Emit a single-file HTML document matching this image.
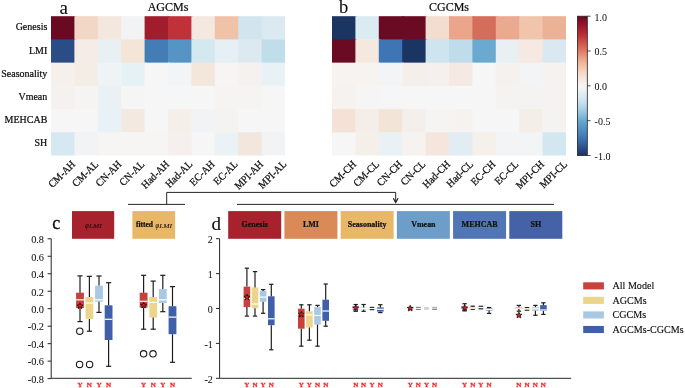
<!DOCTYPE html>
<html><head><meta charset="utf-8"><style>
html,body{margin:0;padding:0;background:#fff;}
body{width:685px;height:388px;overflow:hidden;font-family:"Liberation Serif",serif;}
svg{display:block;}
text{font-family:"Liberation Serif",serif;}
</style></head><body><div style="width:685px;height:388px;will-change:transform">
<svg width="685" height="388" viewBox="0 0 685 388">
<rect x="51.00" y="16.20" width="24.90" height="24.72" fill="#6a0a22"/>
<rect x="74.40" y="16.20" width="24.90" height="24.72" fill="#f2d6c6"/>
<rect x="97.80" y="16.20" width="24.90" height="24.72" fill="#f3e7de"/>
<rect x="121.20" y="16.20" width="24.90" height="24.72" fill="#f2f3f5"/>
<rect x="144.60" y="16.20" width="24.90" height="24.72" fill="#a11c2d"/>
<rect x="168.00" y="16.20" width="24.90" height="24.72" fill="#c0313a"/>
<rect x="191.40" y="16.20" width="24.90" height="24.72" fill="#f5e8e0"/>
<rect x="214.80" y="16.20" width="24.90" height="24.72" fill="#f0c3a9"/>
<rect x="238.20" y="16.20" width="24.90" height="24.72" fill="#d0e5ee"/>
<rect x="261.60" y="16.20" width="23.40" height="24.72" fill="#dbeaf1"/>
<rect x="51.00" y="39.42" width="24.90" height="24.72" fill="#2a4d86"/>
<rect x="74.40" y="39.42" width="24.90" height="24.72" fill="#f6ece7"/>
<rect x="97.80" y="39.42" width="24.90" height="24.72" fill="#e8f0f4"/>
<rect x="121.20" y="39.42" width="24.90" height="24.72" fill="#f4e5d9"/>
<rect x="144.60" y="39.42" width="24.90" height="24.72" fill="#427db5"/>
<rect x="168.00" y="39.42" width="24.90" height="24.72" fill="#5594c4"/>
<rect x="191.40" y="39.42" width="24.90" height="24.72" fill="#d3e8ef"/>
<rect x="214.80" y="39.42" width="24.90" height="24.72" fill="#e6f0f4"/>
<rect x="238.20" y="39.42" width="24.90" height="24.72" fill="#dde9f1"/>
<rect x="261.60" y="39.42" width="23.40" height="24.72" fill="#bfdeea"/>
<rect x="51.00" y="62.64" width="24.90" height="24.72" fill="#f5f0ec"/>
<rect x="74.40" y="62.64" width="24.90" height="24.72" fill="#f4ede6"/>
<rect x="97.80" y="62.64" width="24.90" height="24.72" fill="#eef3f5"/>
<rect x="121.20" y="62.64" width="24.90" height="24.72" fill="#e6f1f5"/>
<rect x="144.60" y="62.64" width="24.90" height="24.72" fill="#f6f6f7"/>
<rect x="168.00" y="62.64" width="24.90" height="24.72" fill="#f2f4f6"/>
<rect x="191.40" y="62.64" width="24.90" height="24.72" fill="#f3e6da"/>
<rect x="214.80" y="62.64" width="24.90" height="24.72" fill="#f6f5f4"/>
<rect x="238.20" y="62.64" width="24.90" height="24.72" fill="#f5f1ee"/>
<rect x="261.60" y="62.64" width="23.40" height="24.72" fill="#e8f1f5"/>
<rect x="51.00" y="85.86" width="24.90" height="24.72" fill="#f5f1ef"/>
<rect x="74.40" y="85.86" width="24.90" height="24.72" fill="#f6f4f3"/>
<rect x="97.80" y="85.86" width="24.90" height="24.72" fill="#eaf1f5"/>
<rect x="121.20" y="85.86" width="24.90" height="24.72" fill="#f6f5f5"/>
<rect x="144.60" y="85.86" width="24.90" height="24.72" fill="#f6f6f6"/>
<rect x="168.00" y="85.86" width="24.90" height="24.72" fill="#f6f6f6"/>
<rect x="191.40" y="85.86" width="24.90" height="24.72" fill="#f6f6f6"/>
<rect x="214.80" y="85.86" width="24.90" height="24.72" fill="#f5f4f2"/>
<rect x="238.20" y="85.86" width="24.90" height="24.72" fill="#f6f4f3"/>
<rect x="261.60" y="85.86" width="23.40" height="24.72" fill="#f6f6f6"/>
<rect x="51.00" y="109.08" width="24.90" height="24.72" fill="#f7f6f6"/>
<rect x="74.40" y="109.08" width="24.90" height="24.72" fill="#f7f6f6"/>
<rect x="97.80" y="109.08" width="24.90" height="24.72" fill="#e8f1f6"/>
<rect x="121.20" y="109.08" width="24.90" height="24.72" fill="#f3e9e0"/>
<rect x="144.60" y="109.08" width="24.90" height="24.72" fill="#f6f6f6"/>
<rect x="168.00" y="109.08" width="24.90" height="24.72" fill="#f4efe9"/>
<rect x="191.40" y="109.08" width="24.90" height="24.72" fill="#f2f3f5"/>
<rect x="214.80" y="109.08" width="24.90" height="24.72" fill="#f5f3f2"/>
<rect x="238.20" y="109.08" width="24.90" height="24.72" fill="#f6f6f6"/>
<rect x="261.60" y="109.08" width="23.40" height="24.72" fill="#f6f6f6"/>
<rect x="51.00" y="132.30" width="24.90" height="23.22" fill="#d6e8f1"/>
<rect x="74.40" y="132.30" width="24.90" height="23.22" fill="#f1f3f5"/>
<rect x="97.80" y="132.30" width="24.90" height="23.22" fill="#f7f5f4"/>
<rect x="121.20" y="132.30" width="24.90" height="23.22" fill="#f7f5f4"/>
<rect x="144.60" y="132.30" width="24.90" height="23.22" fill="#f7f5f4"/>
<rect x="168.00" y="132.30" width="24.90" height="23.22" fill="#f5f0ed"/>
<rect x="191.40" y="132.30" width="24.90" height="23.22" fill="#f6f6f6"/>
<rect x="214.80" y="132.30" width="24.90" height="23.22" fill="#ebf2f5"/>
<rect x="238.20" y="132.30" width="24.90" height="23.22" fill="#f3e6dc"/>
<rect x="261.60" y="132.30" width="23.40" height="23.22" fill="#f1f3f5"/>
<rect x="332.00" y="16.20" width="24.90" height="24.72" fill="#1b3563"/>
<rect x="355.40" y="16.20" width="24.90" height="24.72" fill="#dbebf2"/>
<rect x="378.80" y="16.20" width="24.90" height="24.72" fill="#6a0b23"/>
<rect x="402.20" y="16.20" width="24.90" height="24.72" fill="#6a0b23"/>
<rect x="425.60" y="16.20" width="24.90" height="24.72" fill="#f3ddd0"/>
<rect x="449.00" y="16.20" width="24.90" height="24.72" fill="#eba58a"/>
<rect x="472.40" y="16.20" width="24.90" height="24.72" fill="#d56d5b"/>
<rect x="495.80" y="16.20" width="24.90" height="24.72" fill="#eba98f"/>
<rect x="519.20" y="16.20" width="24.90" height="24.72" fill="#f1c4ac"/>
<rect x="542.60" y="16.20" width="23.40" height="24.72" fill="#ebb296"/>
<rect x="332.00" y="39.42" width="24.90" height="24.72" fill="#6a0b23"/>
<rect x="355.40" y="39.42" width="24.90" height="24.72" fill="#f5e8df"/>
<rect x="378.80" y="39.42" width="24.90" height="24.72" fill="#3e75b5"/>
<rect x="402.20" y="39.42" width="24.90" height="24.72" fill="#1b3563"/>
<rect x="425.60" y="39.42" width="24.90" height="24.72" fill="#cee4ee"/>
<rect x="449.00" y="39.42" width="24.90" height="24.72" fill="#c0dcea"/>
<rect x="472.40" y="39.42" width="24.90" height="24.72" fill="#6aaad0"/>
<rect x="495.80" y="39.42" width="24.90" height="24.72" fill="#e8f0f4"/>
<rect x="519.20" y="39.42" width="24.90" height="24.72" fill="#f5e9e2"/>
<rect x="542.60" y="39.42" width="23.40" height="24.72" fill="#dae9f1"/>
<rect x="332.00" y="62.64" width="24.90" height="24.72" fill="#f6f3f1"/>
<rect x="355.40" y="62.64" width="24.90" height="24.72" fill="#f6f3f1"/>
<rect x="378.80" y="62.64" width="24.90" height="24.72" fill="#f2f4f6"/>
<rect x="402.20" y="62.64" width="24.90" height="24.72" fill="#f5efeb"/>
<rect x="425.60" y="62.64" width="24.90" height="24.72" fill="#f5f0ee"/>
<rect x="449.00" y="62.64" width="24.90" height="24.72" fill="#f4e9e3"/>
<rect x="472.40" y="62.64" width="24.90" height="24.72" fill="#f6f6f6"/>
<rect x="495.80" y="62.64" width="24.90" height="24.72" fill="#f5f1ee"/>
<rect x="519.20" y="62.64" width="24.90" height="24.72" fill="#f2f4f6"/>
<rect x="542.60" y="62.64" width="23.40" height="24.72" fill="#f5f2f0"/>
<rect x="332.00" y="85.86" width="24.90" height="24.72" fill="#f5f2ef"/>
<rect x="355.40" y="85.86" width="24.90" height="24.72" fill="#f6f5f5"/>
<rect x="378.80" y="85.86" width="24.90" height="24.72" fill="#f6f6f6"/>
<rect x="402.20" y="85.86" width="24.90" height="24.72" fill="#f6f6f6"/>
<rect x="425.60" y="85.86" width="24.90" height="24.72" fill="#f6f6f6"/>
<rect x="449.00" y="85.86" width="24.90" height="24.72" fill="#f6f6f6"/>
<rect x="472.40" y="85.86" width="24.90" height="24.72" fill="#f6f6f6"/>
<rect x="495.80" y="85.86" width="24.90" height="24.72" fill="#f5f3f2"/>
<rect x="519.20" y="85.86" width="24.90" height="24.72" fill="#f5f3f2"/>
<rect x="542.60" y="85.86" width="23.40" height="24.72" fill="#f5f3f2"/>
<rect x="332.00" y="109.08" width="24.90" height="24.72" fill="#f3e2d5"/>
<rect x="355.40" y="109.08" width="24.90" height="24.72" fill="#f5eee8"/>
<rect x="378.80" y="109.08" width="24.90" height="24.72" fill="#f3e4d8"/>
<rect x="402.20" y="109.08" width="24.90" height="24.72" fill="#f5efeb"/>
<rect x="425.60" y="109.08" width="24.90" height="24.72" fill="#f6f4f3"/>
<rect x="449.00" y="109.08" width="24.90" height="24.72" fill="#f5f2f0"/>
<rect x="472.40" y="109.08" width="24.90" height="24.72" fill="#f6f6f6"/>
<rect x="495.80" y="109.08" width="24.90" height="24.72" fill="#f6f6f6"/>
<rect x="519.20" y="109.08" width="24.90" height="24.72" fill="#f4eee8"/>
<rect x="542.60" y="109.08" width="23.40" height="24.72" fill="#f5f3f1"/>
<rect x="332.00" y="132.30" width="24.90" height="23.22" fill="#f6f6f6"/>
<rect x="355.40" y="132.30" width="24.90" height="23.22" fill="#f5efea"/>
<rect x="378.80" y="132.30" width="24.90" height="23.22" fill="#e9f1f5"/>
<rect x="402.20" y="132.30" width="24.90" height="23.22" fill="#f6f2f0"/>
<rect x="425.60" y="132.30" width="24.90" height="23.22" fill="#f4e6dc"/>
<rect x="449.00" y="132.30" width="24.90" height="23.22" fill="#e1edf3"/>
<rect x="472.40" y="132.30" width="24.90" height="23.22" fill="#f5f1ea"/>
<rect x="495.80" y="132.30" width="24.90" height="23.22" fill="#f2f4f6"/>
<rect x="519.20" y="132.30" width="24.90" height="23.22" fill="#f2f4f6"/>
<rect x="542.60" y="132.30" width="23.40" height="23.22" fill="#d2e7f0"/>
<text transform="translate(47.30,30.31) scale(1,1.06)" style="font-size:10px" fill="#0d0d0d" stroke="#0d0d0d" stroke-width="0.22" text-anchor="end">Genesis</text>
<text transform="translate(47.30,53.53) scale(1,1.06)" style="font-size:10px" fill="#0d0d0d" stroke="#0d0d0d" stroke-width="0.22" text-anchor="end">LMI</text>
<text transform="translate(47.30,76.75) scale(1,1.06)" style="font-size:10px" fill="#0d0d0d" stroke="#0d0d0d" stroke-width="0.22" text-anchor="end">Seasonality</text>
<text transform="translate(47.30,99.97) scale(1,1.06)" style="font-size:10px" fill="#0d0d0d" stroke="#0d0d0d" stroke-width="0.22" text-anchor="end">Vmean</text>
<text transform="translate(47.30,123.19) scale(1,1.06)" style="font-size:10px" fill="#0d0d0d" stroke="#0d0d0d" stroke-width="0.22" text-anchor="end">MEHCAB</text>
<text transform="translate(47.30,146.41) scale(1,1.06)" style="font-size:10px" fill="#0d0d0d" stroke="#0d0d0d" stroke-width="0.22" text-anchor="end">SH</text>
<text x="168.00" y="10.50" style="font-size:12px" fill="#0d0d0d" stroke="#0d0d0d" stroke-width="0.22" text-anchor="middle">AGCMs</text>
<text x="449.00" y="10.50" style="font-size:12px" fill="#0d0d0d" stroke="#0d0d0d" stroke-width="0.22" text-anchor="middle">CGCMs</text>
<text x="59.40" y="14.00" style="font-size:19px" fill="#0d0d0d" stroke="#0d0d0d" stroke-width="0.1">a</text>
<text x="338.90" y="13.30" style="font-size:18.5px" fill="#0d0d0d" stroke="#0d0d0d" stroke-width="0.1">b</text>
<text x="52.20" y="229.10" style="font-size:18px" fill="#0d0d0d" stroke="#0d0d0d" stroke-width="0.3">c</text>
<text x="211.50" y="229.60" style="font-size:19px" fill="#0d0d0d" stroke="#0d0d0d" stroke-width="0.1">d</text>
<g transform="translate(61.80,174.20) rotate(-45)"><text transform="translate(0.00,3.37) scale(1,1.06)" style="font-size:10px" fill="#0d0d0d" stroke="#0d0d0d" stroke-width="0.22" text-anchor="middle">CM-AH</text></g>
<g transform="translate(85.20,173.81) rotate(-45)"><text transform="translate(0.00,3.37) scale(1,1.06)" style="font-size:10px" fill="#0d0d0d" stroke="#0d0d0d" stroke-width="0.22" text-anchor="middle">CM-AL</text></g>
<g transform="translate(108.60,173.61) rotate(-45)"><text transform="translate(0.00,3.37) scale(1,1.06)" style="font-size:10px" fill="#0d0d0d" stroke="#0d0d0d" stroke-width="0.22" text-anchor="middle">CN-AH</text></g>
<g transform="translate(132.00,173.22) rotate(-45)"><text transform="translate(0.00,3.37) scale(1,1.06)" style="font-size:10px" fill="#0d0d0d" stroke="#0d0d0d" stroke-width="0.22" text-anchor="middle">CN-AL</text></g>
<g transform="translate(155.40,174.59) rotate(-45)"><text transform="translate(0.00,3.37) scale(1,1.06)" style="font-size:10px" fill="#0d0d0d" stroke="#0d0d0d" stroke-width="0.22" text-anchor="middle">Had-AH</text></g>
<g transform="translate(178.80,174.19) rotate(-45)"><text transform="translate(0.00,3.37) scale(1,1.06)" style="font-size:10px" fill="#0d0d0d" stroke="#0d0d0d" stroke-width="0.22" text-anchor="middle">Had-AL</text></g>
<g transform="translate(202.20,173.22) rotate(-45)"><text transform="translate(0.00,3.37) scale(1,1.06)" style="font-size:10px" fill="#0d0d0d" stroke="#0d0d0d" stroke-width="0.22" text-anchor="middle">EC-AH</text></g>
<g transform="translate(225.60,172.82) rotate(-45)"><text transform="translate(0.00,3.37) scale(1,1.06)" style="font-size:10px" fill="#0d0d0d" stroke="#0d0d0d" stroke-width="0.22" text-anchor="middle">EC-AL</text></g>
<g transform="translate(249.00,174.99) rotate(-45)"><text transform="translate(0.00,3.37) scale(1,1.06)" style="font-size:10px" fill="#0d0d0d" stroke="#0d0d0d" stroke-width="0.22" text-anchor="middle">MPI-AH</text></g>
<g transform="translate(272.40,174.59) rotate(-45)"><text transform="translate(0.00,3.37) scale(1,1.06)" style="font-size:10px" fill="#0d0d0d" stroke="#0d0d0d" stroke-width="0.22" text-anchor="middle">MPI-AL</text></g>
<g transform="translate(342.80,174.00) rotate(-45)"><text transform="translate(0.00,3.37) scale(1,1.06)" style="font-size:10px" fill="#0d0d0d" stroke="#0d0d0d" stroke-width="0.22" text-anchor="middle">CM-CH</text></g>
<g transform="translate(366.20,173.61) rotate(-45)"><text transform="translate(0.00,3.37) scale(1,1.06)" style="font-size:10px" fill="#0d0d0d" stroke="#0d0d0d" stroke-width="0.22" text-anchor="middle">CM-CL</text></g>
<g transform="translate(389.60,173.41) rotate(-45)"><text transform="translate(0.00,3.37) scale(1,1.06)" style="font-size:10px" fill="#0d0d0d" stroke="#0d0d0d" stroke-width="0.22" text-anchor="middle">CN-CH</text></g>
<g transform="translate(413.00,173.02) rotate(-45)"><text transform="translate(0.00,3.37) scale(1,1.06)" style="font-size:10px" fill="#0d0d0d" stroke="#0d0d0d" stroke-width="0.22" text-anchor="middle">CN-CL</text></g>
<g transform="translate(436.40,174.39) rotate(-45)"><text transform="translate(0.00,3.37) scale(1,1.06)" style="font-size:10px" fill="#0d0d0d" stroke="#0d0d0d" stroke-width="0.22" text-anchor="middle">Had-CH</text></g>
<g transform="translate(459.80,174.00) rotate(-45)"><text transform="translate(0.00,3.37) scale(1,1.06)" style="font-size:10px" fill="#0d0d0d" stroke="#0d0d0d" stroke-width="0.22" text-anchor="middle">Had-CL</text></g>
<g transform="translate(483.20,173.02) rotate(-45)"><text transform="translate(0.00,3.37) scale(1,1.06)" style="font-size:10px" fill="#0d0d0d" stroke="#0d0d0d" stroke-width="0.22" text-anchor="middle">EC-CH</text></g>
<g transform="translate(506.60,172.63) rotate(-45)"><text transform="translate(0.00,3.37) scale(1,1.06)" style="font-size:10px" fill="#0d0d0d" stroke="#0d0d0d" stroke-width="0.22" text-anchor="middle">EC-CL</text></g>
<g transform="translate(530.00,174.79) rotate(-45)"><text transform="translate(0.00,3.37) scale(1,1.06)" style="font-size:10px" fill="#0d0d0d" stroke="#0d0d0d" stroke-width="0.22" text-anchor="middle">MPI-CH</text></g>
<g transform="translate(553.40,174.40) rotate(-45)"><text transform="translate(0.00,3.37) scale(1,1.06)" style="font-size:10px" fill="#0d0d0d" stroke="#0d0d0d" stroke-width="0.22" text-anchor="middle">MPI-CL</text></g>
<defs><linearGradient id="cb" x1="0" y1="0" x2="0" y2="1">
<stop offset="0.000" stop-color="#680a22"/>
<stop offset="0.050" stop-color="#8e1029"/>
<stop offset="0.100" stop-color="#ad1f2f"/>
<stop offset="0.150" stop-color="#c2383c"/>
<stop offset="0.200" stop-color="#d25a4e"/>
<stop offset="0.250" stop-color="#df7a63"/>
<stop offset="0.300" stop-color="#eda084"/>
<stop offset="0.350" stop-color="#f3bda2"/>
<stop offset="0.400" stop-color="#f6d6c4"/>
<stop offset="0.450" stop-color="#f5e6dc"/>
<stop offset="0.500" stop-color="#f6f6f6"/>
<stop offset="0.550" stop-color="#e4eef3"/>
<stop offset="0.600" stop-color="#d0e5ef"/>
<stop offset="0.650" stop-color="#b5d6e7"/>
<stop offset="0.700" stop-color="#8fc2dd"/>
<stop offset="0.750" stop-color="#6aa8d0"/>
<stop offset="0.800" stop-color="#5594c4"/>
<stop offset="0.850" stop-color="#4580bb"/>
<stop offset="0.900" stop-color="#3868a8"/>
<stop offset="0.950" stop-color="#2a4d88"/>
<stop offset="1.000" stop-color="#1b3361"/>
</linearGradient></defs>
<rect x="577.4" y="16.2" width="9.9" height="139.32" fill="url(#cb)" stroke="#222" stroke-width="0.8"/>
<line x1="587.3" y1="16.20" x2="590.60" y2="16.20" stroke="#222" stroke-width="0.8"/>
<text transform="translate(594.60,20.50) scale(1,1.06)" style="font-size:10px" fill="#0d0d0d" stroke="#0d0d0d" stroke-width="0.02">1.0</text>
<line x1="587.3" y1="51.03" x2="590.60" y2="51.03" stroke="#222" stroke-width="0.8"/>
<text transform="translate(594.60,55.33) scale(1,1.06)" style="font-size:10px" fill="#0d0d0d" stroke="#0d0d0d" stroke-width="0.02">0.5</text>
<line x1="587.3" y1="85.86" x2="590.60" y2="85.86" stroke="#222" stroke-width="0.8"/>
<text transform="translate(594.60,90.16) scale(1,1.06)" style="font-size:10px" fill="#0d0d0d" stroke="#0d0d0d" stroke-width="0.02">0.0</text>
<line x1="587.3" y1="120.69" x2="590.60" y2="120.69" stroke="#222" stroke-width="0.8"/>
<text transform="translate(594.60,124.99) scale(1,1.06)" style="font-size:10px" fill="#0d0d0d" stroke="#0d0d0d" stroke-width="0.02">-0.5</text>
<line x1="587.3" y1="155.52" x2="590.60" y2="155.52" stroke="#222" stroke-width="0.8"/>
<text transform="translate(594.60,159.82) scale(1,1.06)" style="font-size:10px" fill="#0d0d0d" stroke="#0d0d0d" stroke-width="0.02">-1.0</text>
<path d="M128,204.4 H185" stroke="#262626" stroke-width="1" fill="none"/>
<path d="M166.7,204.4 V192.4 H395.7 V202" stroke="#262626" stroke-width="1" fill="none"/>
<path d="M393.3,198.2 L395.7,202.5 L398.1,198.2" stroke="#262626" stroke-width="1.3" fill="none" stroke-linejoin="miter"/>
<path d="M237,204.4 H554" stroke="#262626" stroke-width="1" fill="none"/>
<rect x="72" y="211.1" width="42.2" height="27.7" fill="#a8222e"/>
<rect x="132.4" y="211.1" width="42.7" height="27.7" fill="#e8b767"/>
<g transform="translate(85.30,227.90) scale(0.75,1)"><text x="0.00" y="0.00" style="font-size:8.2px;font-style:italic" fill="#1a0606" stroke="#1a0606" stroke-width="0.12">φ</text></g><g transform="translate(88.90,227.50) scale(1.25,0.85)"><text x="0.00" y="0.00" style="font-size:6px;font-style:italic" fill="#1a0606" stroke="#1a0606" stroke-width="0.05">LMI</text></g>
<text transform="translate(135.90,226.50) scale(1,1.06)" style="font-size:7.5px;font-weight:bold" fill="#111" stroke="#111" stroke-width="0.22">fitted</text>
<g transform="translate(155.60,227.90) scale(0.75,1)"><text x="0.00" y="0.00" style="font-size:8.2px;font-style:italic" fill="#1a0606" stroke="#1a0606" stroke-width="0.12">φ</text></g><g transform="translate(159.20,227.50) scale(1.25,0.85)"><text x="0.00" y="0.00" style="font-size:6px;font-style:italic" fill="#1a0606" stroke="#1a0606" stroke-width="0.05">LMI</text></g>
<rect x="228.20" y="211.1" width="53" height="27.7" fill="#a8222e"/>
<text transform="translate(254.70,227.10) scale(1,1.06)" style="font-size:8px;font-weight:bold" fill="#111" stroke="#111" stroke-width="0.22" text-anchor="middle">Genesis</text>
<rect x="284.42" y="211.1" width="53" height="27.7" fill="#d98a56"/>
<text transform="translate(310.92,227.10) scale(1,1.06)" style="font-size:8px;font-weight:bold" fill="#111" stroke="#111" stroke-width="0.22" text-anchor="middle">LMI</text>
<rect x="340.64" y="211.1" width="53" height="27.7" fill="#e8b767"/>
<text transform="translate(367.14,227.10) scale(1,1.06)" style="font-size:8px;font-weight:bold" fill="#111" stroke="#111" stroke-width="0.22" text-anchor="middle">Seasonality</text>
<rect x="396.86" y="211.1" width="53" height="27.7" fill="#6d9ec9"/>
<text transform="translate(423.36,227.10) scale(1,1.06)" style="font-size:8px;font-weight:bold" fill="#111" stroke="#111" stroke-width="0.22" text-anchor="middle">Vmean</text>
<rect x="453.08" y="211.1" width="53" height="27.7" fill="#5176b5"/>
<text transform="translate(479.58,227.10) scale(1,1.06)" style="font-size:8px;font-weight:bold" fill="#111" stroke="#111" stroke-width="0.22" text-anchor="middle">MEHCAB</text>
<rect x="509.30" y="211.1" width="53" height="27.7" fill="#4462a5"/>
<text transform="translate(535.80,227.10) scale(1,1.06)" style="font-size:8px;font-weight:bold" fill="#111" stroke="#111" stroke-width="0.22" text-anchor="middle">SH</text>
<path d="M51.2,238.7 V378.3 H191.8" stroke="#262626" stroke-width="1" fill="none"/>
<line x1="47.6" y1="238.78" x2="51.2" y2="238.78" stroke="#262626" stroke-width="1"/>
<text transform="translate(44.00,243.08) scale(1,1.06)" style="font-size:10.3px" fill="#0d0d0d" stroke="#0d0d0d" stroke-width="0.05" text-anchor="end">0.8</text>
<line x1="47.6" y1="256.26" x2="51.2" y2="256.26" stroke="#262626" stroke-width="1"/>
<text transform="translate(44.00,260.56) scale(1,1.06)" style="font-size:10.3px" fill="#0d0d0d" stroke="#0d0d0d" stroke-width="0.05" text-anchor="end">0.6</text>
<line x1="47.6" y1="273.74" x2="51.2" y2="273.74" stroke="#262626" stroke-width="1"/>
<text transform="translate(44.00,278.04) scale(1,1.06)" style="font-size:10.3px" fill="#0d0d0d" stroke="#0d0d0d" stroke-width="0.05" text-anchor="end">0.4</text>
<line x1="47.6" y1="291.22" x2="51.2" y2="291.22" stroke="#262626" stroke-width="1"/>
<text transform="translate(44.00,295.52) scale(1,1.06)" style="font-size:10.3px" fill="#0d0d0d" stroke="#0d0d0d" stroke-width="0.05" text-anchor="end">0.2</text>
<line x1="47.6" y1="308.70" x2="51.2" y2="308.70" stroke="#262626" stroke-width="1"/>
<text transform="translate(44.00,313.00) scale(1,1.06)" style="font-size:10.3px" fill="#0d0d0d" stroke="#0d0d0d" stroke-width="0.05" text-anchor="end">0.0</text>
<line x1="47.6" y1="326.18" x2="51.2" y2="326.18" stroke="#262626" stroke-width="1"/>
<text transform="translate(44.00,330.48) scale(1,1.06)" style="font-size:10.3px" fill="#0d0d0d" stroke="#0d0d0d" stroke-width="0.05" text-anchor="end">-0.2</text>
<line x1="47.6" y1="343.66" x2="51.2" y2="343.66" stroke="#262626" stroke-width="1"/>
<text transform="translate(44.00,347.96) scale(1,1.06)" style="font-size:10.3px" fill="#0d0d0d" stroke="#0d0d0d" stroke-width="0.05" text-anchor="end">-0.4</text>
<line x1="47.6" y1="361.14" x2="51.2" y2="361.14" stroke="#262626" stroke-width="1"/>
<text transform="translate(44.00,365.44) scale(1,1.06)" style="font-size:10.3px" fill="#0d0d0d" stroke="#0d0d0d" stroke-width="0.05" text-anchor="end">-0.6</text>
<line x1="47.6" y1="378.62" x2="51.2" y2="378.62" stroke="#262626" stroke-width="1"/>
<text transform="translate(44.00,382.92) scale(1,1.06)" style="font-size:10.3px" fill="#0d0d0d" stroke="#0d0d0d" stroke-width="0.05" text-anchor="end">-0.8</text>
<path d="M219.6,238.7 V378.3 H571.2" stroke="#262626" stroke-width="1" fill="none"/>
<line x1="216" y1="238.70" x2="219.6" y2="238.70" stroke="#262626" stroke-width="1"/>
<text transform="translate(212.80,243.00) scale(1,1.06)" style="font-size:10px" fill="#0d0d0d" stroke="#0d0d0d" stroke-width="0.05" text-anchor="end">2</text>
<line x1="216" y1="273.60" x2="219.6" y2="273.60" stroke="#262626" stroke-width="1"/>
<text transform="translate(212.80,277.90) scale(1,1.06)" style="font-size:10px" fill="#0d0d0d" stroke="#0d0d0d" stroke-width="0.05" text-anchor="end">1</text>
<line x1="216" y1="308.50" x2="219.6" y2="308.50" stroke="#262626" stroke-width="1"/>
<text transform="translate(212.80,312.80) scale(1,1.06)" style="font-size:10px" fill="#0d0d0d" stroke="#0d0d0d" stroke-width="0.05" text-anchor="end">0</text>
<line x1="216" y1="343.40" x2="219.6" y2="343.40" stroke="#262626" stroke-width="1"/>
<text transform="translate(212.80,347.70) scale(1,1.06)" style="font-size:10px" fill="#0d0d0d" stroke="#0d0d0d" stroke-width="0.05" text-anchor="end">-1</text>
<line x1="216" y1="378.30" x2="219.6" y2="378.30" stroke="#262626" stroke-width="1"/>
<text transform="translate(212.80,382.60) scale(1,1.06)" style="font-size:10px" fill="#0d0d0d" stroke="#0d0d0d" stroke-width="0.05" text-anchor="end">-2</text>
<rect x="76.10" y="292.70" width="7.80" height="15.30" fill="#c8413b"/><line x1="80.00" y1="275.90" x2="80.00" y2="292.70" stroke="#1e1e1e" stroke-width="1.2"/><line x1="80.00" y1="308.00" x2="80.00" y2="321.60" stroke="#1e1e1e" stroke-width="1.2"/><line x1="77.43" y1="275.90" x2="82.57" y2="275.90" stroke="#1e1e1e" stroke-width="1.2"/><line x1="77.43" y1="321.60" x2="82.57" y2="321.60" stroke="#1e1e1e" stroke-width="1.2"/><line x1="76.10" y1="299.80" x2="83.90" y2="299.80" stroke="#ffffff" stroke-width="1.2"/>
<rect x="85.50" y="297.00" width="7.80" height="21.90" fill="#ecd48b"/><line x1="89.40" y1="276.30" x2="89.40" y2="297.00" stroke="#1e1e1e" stroke-width="1.2"/><line x1="89.40" y1="318.90" x2="89.40" y2="331.20" stroke="#1e1e1e" stroke-width="1.2"/><line x1="86.83" y1="276.30" x2="91.97" y2="276.30" stroke="#1e1e1e" stroke-width="1.2"/><line x1="86.83" y1="331.20" x2="91.97" y2="331.20" stroke="#1e1e1e" stroke-width="1.2"/><line x1="85.50" y1="303.00" x2="93.30" y2="303.00" stroke="#ffffff" stroke-width="1.2"/>
<rect x="95.10" y="285.60" width="7.80" height="16.10" fill="#a9c8e2"/><line x1="99.00" y1="276.00" x2="99.00" y2="285.60" stroke="#1e1e1e" stroke-width="1.2"/><line x1="99.00" y1="301.70" x2="99.00" y2="312.40" stroke="#1e1e1e" stroke-width="1.2"/><line x1="96.43" y1="276.00" x2="101.57" y2="276.00" stroke="#1e1e1e" stroke-width="1.2"/><line x1="96.43" y1="312.40" x2="101.57" y2="312.40" stroke="#1e1e1e" stroke-width="1.2"/><line x1="95.10" y1="299.80" x2="102.90" y2="299.80" stroke="#ffffff" stroke-width="1.2"/>
<rect x="104.70" y="305.30" width="7.80" height="34.70" fill="#3f5fa8"/><line x1="108.60" y1="282.70" x2="108.60" y2="305.30" stroke="#1e1e1e" stroke-width="1.2"/><line x1="108.60" y1="340.00" x2="108.60" y2="366.30" stroke="#1e1e1e" stroke-width="1.2"/><line x1="106.03" y1="282.70" x2="111.17" y2="282.70" stroke="#1e1e1e" stroke-width="1.2"/><line x1="106.03" y1="366.30" x2="111.17" y2="366.30" stroke="#1e1e1e" stroke-width="1.2"/><line x1="104.70" y1="319.30" x2="112.50" y2="319.30" stroke="#ffffff" stroke-width="1.2"/>
<rect x="139.70" y="292.70" width="7.80" height="14.90" fill="#c8413b"/><line x1="143.60" y1="275.30" x2="143.60" y2="292.70" stroke="#1e1e1e" stroke-width="1.2"/><line x1="143.60" y1="307.60" x2="143.60" y2="329.20" stroke="#1e1e1e" stroke-width="1.2"/><line x1="141.03" y1="275.30" x2="146.17" y2="275.30" stroke="#1e1e1e" stroke-width="1.2"/><line x1="141.03" y1="329.20" x2="146.17" y2="329.20" stroke="#1e1e1e" stroke-width="1.2"/><line x1="139.70" y1="301.30" x2="147.50" y2="301.30" stroke="#ffffff" stroke-width="1.2"/>
<rect x="149.30" y="297.00" width="7.80" height="20.50" fill="#ecd48b"/><line x1="153.20" y1="281.10" x2="153.20" y2="297.00" stroke="#1e1e1e" stroke-width="1.2"/><line x1="153.20" y1="317.50" x2="153.20" y2="329.20" stroke="#1e1e1e" stroke-width="1.2"/><line x1="150.63" y1="281.10" x2="155.77" y2="281.10" stroke="#1e1e1e" stroke-width="1.2"/><line x1="150.63" y1="329.20" x2="155.77" y2="329.20" stroke="#1e1e1e" stroke-width="1.2"/><line x1="149.30" y1="302.40" x2="157.10" y2="302.40" stroke="#ffffff" stroke-width="1.2"/>
<rect x="158.90" y="289.10" width="7.80" height="13.90" fill="#a9c8e2"/><line x1="162.80" y1="275.30" x2="162.80" y2="289.10" stroke="#1e1e1e" stroke-width="1.2"/><line x1="162.80" y1="303.00" x2="162.80" y2="311.70" stroke="#1e1e1e" stroke-width="1.2"/><line x1="160.23" y1="275.30" x2="165.37" y2="275.30" stroke="#1e1e1e" stroke-width="1.2"/><line x1="160.23" y1="311.70" x2="165.37" y2="311.70" stroke="#1e1e1e" stroke-width="1.2"/><line x1="158.90" y1="299.80" x2="166.70" y2="299.80" stroke="#ffffff" stroke-width="1.2"/>
<rect x="168.60" y="306.20" width="7.80" height="28.00" fill="#3f5fa8"/><line x1="172.50" y1="286.60" x2="172.50" y2="306.20" stroke="#1e1e1e" stroke-width="1.2"/><line x1="172.50" y1="334.20" x2="172.50" y2="362.30" stroke="#1e1e1e" stroke-width="1.2"/><line x1="169.93" y1="286.60" x2="175.07" y2="286.60" stroke="#1e1e1e" stroke-width="1.2"/><line x1="169.93" y1="362.30" x2="175.07" y2="362.30" stroke="#1e1e1e" stroke-width="1.2"/><line x1="168.60" y1="317.10" x2="176.40" y2="317.10" stroke="#ffffff" stroke-width="1.2"/>
<polygon points="80.00,302.80 80.85,304.84 83.04,305.01 81.37,306.44 81.88,308.59 80.00,307.44 78.12,308.59 78.63,306.44 76.96,305.01 79.15,304.84" fill="#e8141c" stroke="#111" stroke-width="0.8"/>
<polygon points="143.60,302.10 144.45,304.14 146.64,304.31 144.97,305.74 145.48,307.89 143.60,306.74 141.72,307.89 142.23,305.74 140.56,304.31 142.75,304.14" fill="#e8141c" stroke="#111" stroke-width="0.8"/>
<circle cx="79.80" cy="331.20" r="3.2" fill="none" stroke="#1a1a1a" stroke-width="1.1"/>
<circle cx="79.60" cy="364.40" r="3.2" fill="none" stroke="#1a1a1a" stroke-width="1.1"/>
<circle cx="89.60" cy="364.40" r="3.2" fill="none" stroke="#1a1a1a" stroke-width="1.1"/>
<circle cx="143.60" cy="353.80" r="3.2" fill="none" stroke="#1a1a1a" stroke-width="1.1"/>
<circle cx="153.00" cy="353.80" r="3.2" fill="none" stroke="#1a1a1a" stroke-width="1.1"/>
<rect x="243.60" y="286.60" width="6.60" height="20.50" fill="#c8413b"/><line x1="246.90" y1="268.20" x2="246.90" y2="286.60" stroke="#1e1e1e" stroke-width="1.2"/><line x1="246.90" y1="307.10" x2="246.90" y2="316.10" stroke="#1e1e1e" stroke-width="1.2"/><line x1="244.72" y1="268.20" x2="249.08" y2="268.20" stroke="#1e1e1e" stroke-width="1.2"/><line x1="244.72" y1="316.10" x2="249.08" y2="316.10" stroke="#1e1e1e" stroke-width="1.2"/><line x1="243.60" y1="298.60" x2="250.20" y2="298.60" stroke="#ffffff" stroke-width="1.2"/>
<rect x="251.70" y="287.50" width="6.60" height="20.70" fill="#ecd48b"/><line x1="255.00" y1="271.60" x2="255.00" y2="287.50" stroke="#1e1e1e" stroke-width="1.2"/><line x1="255.00" y1="308.20" x2="255.00" y2="316.10" stroke="#1e1e1e" stroke-width="1.2"/><line x1="252.82" y1="271.60" x2="257.18" y2="271.60" stroke="#1e1e1e" stroke-width="1.2"/><line x1="252.82" y1="316.10" x2="257.18" y2="316.10" stroke="#1e1e1e" stroke-width="1.2"/><line x1="251.70" y1="304.00" x2="258.30" y2="304.00" stroke="#ffffff" stroke-width="1.2"/>
<rect x="259.80" y="290.90" width="6.60" height="10.80" fill="#a9c8e2"/><line x1="263.10" y1="289.60" x2="263.10" y2="290.90" stroke="#1e1e1e" stroke-width="1.2"/><line x1="263.10" y1="301.70" x2="263.10" y2="313.30" stroke="#1e1e1e" stroke-width="1.2"/><line x1="260.92" y1="289.60" x2="265.28" y2="289.60" stroke="#1e1e1e" stroke-width="1.2"/><line x1="260.92" y1="313.30" x2="265.28" y2="313.30" stroke="#1e1e1e" stroke-width="1.2"/><line x1="259.80" y1="297.10" x2="266.40" y2="297.10" stroke="#ffffff" stroke-width="1.2"/>
<rect x="268.00" y="296.30" width="6.60" height="28.90" fill="#3f5fa8"/><line x1="271.30" y1="284.30" x2="271.30" y2="296.30" stroke="#1e1e1e" stroke-width="1.2"/><line x1="271.30" y1="325.20" x2="271.30" y2="349.80" stroke="#1e1e1e" stroke-width="1.2"/><line x1="269.12" y1="284.30" x2="273.48" y2="284.30" stroke="#1e1e1e" stroke-width="1.2"/><line x1="269.12" y1="349.80" x2="273.48" y2="349.80" stroke="#1e1e1e" stroke-width="1.2"/><line x1="268.00" y1="318.80" x2="274.60" y2="318.80" stroke="#ffffff" stroke-width="1.2"/>
<rect x="298.00" y="308.70" width="6.60" height="20.00" fill="#c8413b"/><line x1="301.30" y1="304.80" x2="301.30" y2="308.70" stroke="#1e1e1e" stroke-width="1.2"/><line x1="301.30" y1="328.70" x2="301.30" y2="346.20" stroke="#1e1e1e" stroke-width="1.2"/><line x1="299.12" y1="304.80" x2="303.48" y2="304.80" stroke="#1e1e1e" stroke-width="1.2"/><line x1="299.12" y1="346.20" x2="303.48" y2="346.20" stroke="#1e1e1e" stroke-width="1.2"/><line x1="298.00" y1="313.80" x2="304.60" y2="313.80" stroke="#ffffff" stroke-width="1.2"/>
<rect x="306.10" y="311.30" width="6.60" height="16.20" fill="#ecd48b"/><line x1="309.40" y1="304.80" x2="309.40" y2="311.30" stroke="#1e1e1e" stroke-width="1.2"/><line x1="309.40" y1="327.50" x2="309.40" y2="340.20" stroke="#1e1e1e" stroke-width="1.2"/><line x1="307.22" y1="304.80" x2="311.58" y2="304.80" stroke="#1e1e1e" stroke-width="1.2"/><line x1="307.22" y1="340.20" x2="311.58" y2="340.20" stroke="#1e1e1e" stroke-width="1.2"/><line x1="306.10" y1="314.90" x2="312.70" y2="314.90" stroke="#ffffff" stroke-width="1.2"/>
<rect x="314.20" y="307.10" width="6.60" height="17.50" fill="#a9c8e2"/><line x1="317.50" y1="305.40" x2="317.50" y2="307.10" stroke="#1e1e1e" stroke-width="1.2"/><line x1="317.50" y1="324.60" x2="317.50" y2="346.20" stroke="#1e1e1e" stroke-width="1.2"/><line x1="315.32" y1="305.40" x2="319.68" y2="305.40" stroke="#1e1e1e" stroke-width="1.2"/><line x1="315.32" y1="346.20" x2="319.68" y2="346.20" stroke="#1e1e1e" stroke-width="1.2"/><line x1="314.20" y1="315.50" x2="320.80" y2="315.50" stroke="#ffffff" stroke-width="1.2"/>
<rect x="322.40" y="299.70" width="6.60" height="21.10" fill="#3f5fa8"/><line x1="325.70" y1="284.00" x2="325.70" y2="299.70" stroke="#1e1e1e" stroke-width="1.2"/><line x1="325.70" y1="320.80" x2="325.70" y2="326.20" stroke="#1e1e1e" stroke-width="1.2"/><line x1="323.52" y1="284.00" x2="327.88" y2="284.00" stroke="#1e1e1e" stroke-width="1.2"/><line x1="323.52" y1="326.20" x2="327.88" y2="326.20" stroke="#1e1e1e" stroke-width="1.2"/><line x1="322.40" y1="311.00" x2="329.00" y2="311.00" stroke="#ffffff" stroke-width="1.2"/>
<rect x="352.40" y="307.10" width="6.60" height="2.20" fill="#c8413b"/><line x1="355.70" y1="304.50" x2="355.70" y2="307.10" stroke="#1e1e1e" stroke-width="1.2"/><line x1="355.70" y1="309.30" x2="355.70" y2="311.30" stroke="#1e1e1e" stroke-width="1.2"/><line x1="353.52" y1="304.50" x2="357.88" y2="304.50" stroke="#1e1e1e" stroke-width="1.2"/><line x1="353.52" y1="311.30" x2="357.88" y2="311.30" stroke="#1e1e1e" stroke-width="1.2"/><line x1="352.40" y1="308.20" x2="359.00" y2="308.20" stroke="#ffffff" stroke-width="1.2"/>
<rect x="360.30" y="307.40" width="6.60" height="2.20" fill="#ecd48b"/><line x1="363.60" y1="304.50" x2="363.60" y2="307.40" stroke="#1e1e1e" stroke-width="1.2"/><line x1="363.60" y1="309.60" x2="363.60" y2="311.30" stroke="#1e1e1e" stroke-width="1.2"/><line x1="361.42" y1="304.50" x2="365.78" y2="304.50" stroke="#1e1e1e" stroke-width="1.2"/><line x1="361.42" y1="311.30" x2="365.78" y2="311.30" stroke="#1e1e1e" stroke-width="1.2"/><line x1="360.30" y1="308.50" x2="366.90" y2="308.50" stroke="#ffffff" stroke-width="1.2"/>
<rect x="368.70" y="307.40" width="6.60" height="2.20" fill="#a9c8e2"/><line x1="369.82" y1="307.40" x2="374.18" y2="307.40" stroke="#1e1e1e" stroke-width="1.2"/><line x1="369.82" y1="309.60" x2="374.18" y2="309.60" stroke="#1e1e1e" stroke-width="1.2"/><line x1="368.70" y1="308.50" x2="375.30" y2="308.50" stroke="#ffffff" stroke-width="1.2"/>
<rect x="377.00" y="307.40" width="6.60" height="4.20" fill="#3f5fa8"/><line x1="380.30" y1="304.70" x2="380.30" y2="307.40" stroke="#1e1e1e" stroke-width="1.2"/><line x1="380.30" y1="311.60" x2="380.30" y2="312.60" stroke="#1e1e1e" stroke-width="1.2"/><line x1="378.12" y1="304.70" x2="382.48" y2="304.70" stroke="#1e1e1e" stroke-width="1.2"/><line x1="378.12" y1="312.60" x2="382.48" y2="312.60" stroke="#1e1e1e" stroke-width="1.2"/><line x1="377.00" y1="309.30" x2="383.60" y2="309.30" stroke="#ffffff" stroke-width="1.2"/>
<rect x="406.90" y="308.00" width="6.60" height="0.80" fill="#c8413b"/><line x1="408.02" y1="308.00" x2="412.38" y2="308.00" stroke="#1e1e1e" stroke-width="1.2"/><line x1="408.02" y1="308.80" x2="412.38" y2="308.80" stroke="#1e1e1e" stroke-width="1.2"/><line x1="406.90" y1="308.40" x2="413.50" y2="308.40" stroke="#ffffff" stroke-width="1.2"/>
<rect x="461.30" y="307.00" width="6.60" height="2.00" fill="#c8413b"/><line x1="464.60" y1="303.70" x2="464.60" y2="307.00" stroke="#1e1e1e" stroke-width="1.2"/><line x1="464.60" y1="309.00" x2="464.60" y2="310.90" stroke="#1e1e1e" stroke-width="1.2"/><line x1="462.42" y1="303.70" x2="466.78" y2="303.70" stroke="#1e1e1e" stroke-width="1.2"/><line x1="462.42" y1="310.90" x2="466.78" y2="310.90" stroke="#1e1e1e" stroke-width="1.2"/><line x1="461.30" y1="308.00" x2="467.90" y2="308.00" stroke="#ffffff" stroke-width="1.2"/>
<rect x="469.40" y="307.00" width="6.60" height="2.30" fill="#ecd48b"/><line x1="472.70" y1="306.20" x2="472.70" y2="307.00" stroke="#1e1e1e" stroke-width="1.2"/><line x1="470.52" y1="306.20" x2="474.88" y2="306.20" stroke="#1e1e1e" stroke-width="1.2"/><line x1="470.52" y1="309.30" x2="474.88" y2="309.30" stroke="#1e1e1e" stroke-width="1.2"/><line x1="469.40" y1="308.20" x2="476.00" y2="308.20" stroke="#ffffff" stroke-width="1.2"/>
<rect x="477.60" y="306.30" width="6.60" height="2.50" fill="#a9c8e2"/><line x1="478.72" y1="306.30" x2="483.08" y2="306.30" stroke="#1e1e1e" stroke-width="1.2"/><line x1="478.72" y1="308.80" x2="483.08" y2="308.80" stroke="#1e1e1e" stroke-width="1.2"/><line x1="477.60" y1="307.50" x2="484.20" y2="307.50" stroke="#ffffff" stroke-width="1.2"/>
<rect x="485.80" y="308.50" width="6.60" height="2.00" fill="#3f5fa8"/><line x1="489.10" y1="307.50" x2="489.10" y2="308.50" stroke="#1e1e1e" stroke-width="1.2"/><line x1="489.10" y1="310.50" x2="489.10" y2="313.40" stroke="#1e1e1e" stroke-width="1.2"/><line x1="486.92" y1="307.50" x2="491.28" y2="307.50" stroke="#1e1e1e" stroke-width="1.2"/><line x1="486.92" y1="313.40" x2="491.28" y2="313.40" stroke="#1e1e1e" stroke-width="1.2"/><line x1="485.80" y1="309.50" x2="492.40" y2="309.50" stroke="#ffffff" stroke-width="1.2"/>
<rect x="515.60" y="307.50" width="6.60" height="1.40" fill="#c8413b"/><line x1="518.90" y1="305.40" x2="518.90" y2="307.50" stroke="#1e1e1e" stroke-width="1.2"/><line x1="518.90" y1="308.90" x2="518.90" y2="311.20" stroke="#1e1e1e" stroke-width="1.2"/><line x1="516.72" y1="305.40" x2="521.08" y2="305.40" stroke="#1e1e1e" stroke-width="1.2"/><line x1="516.72" y1="311.20" x2="521.08" y2="311.20" stroke="#1e1e1e" stroke-width="1.2"/><line x1="515.60" y1="308.20" x2="522.20" y2="308.20" stroke="#ffffff" stroke-width="1.2"/>
<rect x="523.70" y="307.60" width="6.60" height="2.60" fill="#ecd48b"/><line x1="524.82" y1="307.60" x2="529.18" y2="307.60" stroke="#1e1e1e" stroke-width="1.2"/><line x1="524.82" y1="310.20" x2="529.18" y2="310.20" stroke="#1e1e1e" stroke-width="1.2"/><line x1="523.70" y1="308.90" x2="530.30" y2="308.90" stroke="#ffffff" stroke-width="1.2"/>
<rect x="532.10" y="307.10" width="6.60" height="3.70" fill="#a9c8e2"/><line x1="535.40" y1="305.40" x2="535.40" y2="307.10" stroke="#1e1e1e" stroke-width="1.2"/><line x1="535.40" y1="310.80" x2="535.40" y2="315.30" stroke="#1e1e1e" stroke-width="1.2"/><line x1="533.22" y1="305.40" x2="537.58" y2="305.40" stroke="#1e1e1e" stroke-width="1.2"/><line x1="533.22" y1="315.30" x2="537.58" y2="315.30" stroke="#1e1e1e" stroke-width="1.2"/><line x1="532.10" y1="308.80" x2="538.70" y2="308.80" stroke="#ffffff" stroke-width="1.2"/>
<rect x="540.10" y="305.10" width="6.60" height="5.90" fill="#3f5fa8"/><line x1="543.40" y1="302.80" x2="543.40" y2="305.10" stroke="#1e1e1e" stroke-width="1.2"/><line x1="543.40" y1="311.00" x2="543.40" y2="314.40" stroke="#1e1e1e" stroke-width="1.2"/><line x1="541.22" y1="302.80" x2="545.58" y2="302.80" stroke="#1e1e1e" stroke-width="1.2"/><line x1="541.22" y1="314.40" x2="545.58" y2="314.40" stroke="#1e1e1e" stroke-width="1.2"/><line x1="540.10" y1="310.00" x2="546.70" y2="310.00" stroke="#ffffff" stroke-width="1.2"/>
<line x1="415.85" y1="307.30" x2="420.75" y2="307.30" stroke="#707070" stroke-width="1.0"/>
<line x1="415.85" y1="309.40" x2="420.75" y2="309.40" stroke="#707070" stroke-width="1.0"/>
<rect x="424.10" y="306.9" width="4.8" height="3.0" fill="#d4d4d4"/>
<rect x="432.15" y="306.9" width="4.9" height="3.0" fill="#d6d6d6"/>
<line x1="432.15" y1="307.30" x2="437.05" y2="307.30" stroke="#b4b4b4" stroke-width="1.0"/>
<line x1="432.15" y1="309.40" x2="437.05" y2="309.40" stroke="#8a8a8a" stroke-width="1.0"/>
<polygon points="246.90,294.00 247.75,296.04 249.94,296.21 248.27,297.64 248.78,299.79 246.90,298.64 245.02,299.79 245.53,297.64 243.86,296.21 246.05,296.04" fill="#e8141c" stroke="#111" stroke-width="0.8"/>
<polygon points="301.30,311.20 302.15,313.24 304.34,313.41 302.67,314.84 303.18,316.99 301.30,315.84 299.42,316.99 299.93,314.84 298.26,313.41 300.45,313.24" fill="#e8141c" stroke="#111" stroke-width="0.8"/>
<polygon points="355.70,304.70 356.55,306.74 358.74,306.91 357.07,308.34 357.58,310.49 355.70,309.34 353.82,310.49 354.33,308.34 352.66,306.91 354.85,306.74" fill="#e8141c" stroke="#111" stroke-width="0.8"/>
<polygon points="410.20,305.20 411.05,307.24 413.24,307.41 411.57,308.84 412.08,310.99 410.20,309.84 408.32,310.99 408.83,308.84 407.16,307.41 409.35,307.24" fill="#e8141c" stroke="#111" stroke-width="0.8"/>
<polygon points="464.60,304.80 465.45,306.84 467.64,307.01 465.97,308.44 466.48,310.59 464.60,309.44 462.72,310.59 463.23,308.44 461.56,307.01 463.75,306.84" fill="#e8141c" stroke="#111" stroke-width="0.8"/>
<polygon points="518.90,312.10 519.75,314.14 521.94,314.31 520.27,315.74 520.78,317.89 518.90,316.74 517.02,317.89 517.53,315.74 515.86,314.31 518.05,314.14" fill="#e8141c" stroke="#111" stroke-width="0.8"/>
<text x="80.00" y="386.50" style="font-size:7.0px;font-weight:bold" fill="#ff2424" stroke="#ff2424" stroke-width="0.28" text-anchor="middle">Y</text><text x="89.40" y="386.50" style="font-size:7.0px;font-weight:bold" fill="#ff2424" stroke="#ff2424" stroke-width="0.28" text-anchor="middle">N</text><text x="99.00" y="386.50" style="font-size:7.0px;font-weight:bold" fill="#ff2424" stroke="#ff2424" stroke-width="0.28" text-anchor="middle">Y</text><text x="108.60" y="386.50" style="font-size:7.0px;font-weight:bold" fill="#ff2424" stroke="#ff2424" stroke-width="0.28" text-anchor="middle">N</text>
<text x="143.60" y="386.50" style="font-size:7.0px;font-weight:bold" fill="#ff2424" stroke="#ff2424" stroke-width="0.28" text-anchor="middle">Y</text><text x="153.20" y="386.50" style="font-size:7.0px;font-weight:bold" fill="#ff2424" stroke="#ff2424" stroke-width="0.28" text-anchor="middle">N</text><text x="162.80" y="386.50" style="font-size:7.0px;font-weight:bold" fill="#ff2424" stroke="#ff2424" stroke-width="0.28" text-anchor="middle">Y</text><text x="172.50" y="386.50" style="font-size:7.0px;font-weight:bold" fill="#ff2424" stroke="#ff2424" stroke-width="0.28" text-anchor="middle">N</text>
<text x="246.90" y="386.50" style="font-size:7.0px;font-weight:bold" fill="#ff2424" stroke="#ff2424" stroke-width="0.28" text-anchor="middle">Y</text><text x="255.00" y="386.50" style="font-size:7.0px;font-weight:bold" fill="#ff2424" stroke="#ff2424" stroke-width="0.28" text-anchor="middle">N</text><text x="263.10" y="386.50" style="font-size:7.0px;font-weight:bold" fill="#ff2424" stroke="#ff2424" stroke-width="0.28" text-anchor="middle">Y</text><text x="271.30" y="386.50" style="font-size:7.0px;font-weight:bold" fill="#ff2424" stroke="#ff2424" stroke-width="0.28" text-anchor="middle">N</text>
<text x="301.30" y="386.50" style="font-size:7.0px;font-weight:bold" fill="#ff2424" stroke="#ff2424" stroke-width="0.28" text-anchor="middle">Y</text><text x="309.40" y="386.50" style="font-size:7.0px;font-weight:bold" fill="#ff2424" stroke="#ff2424" stroke-width="0.28" text-anchor="middle">Y</text><text x="317.50" y="386.50" style="font-size:7.0px;font-weight:bold" fill="#ff2424" stroke="#ff2424" stroke-width="0.28" text-anchor="middle">N</text><text x="325.70" y="386.50" style="font-size:7.0px;font-weight:bold" fill="#ff2424" stroke="#ff2424" stroke-width="0.28" text-anchor="middle">N</text>
<text x="355.70" y="386.50" style="font-size:7.0px;font-weight:bold" fill="#ff2424" stroke="#ff2424" stroke-width="0.28" text-anchor="middle">N</text><text x="363.60" y="386.50" style="font-size:7.0px;font-weight:bold" fill="#ff2424" stroke="#ff2424" stroke-width="0.28" text-anchor="middle">N</text><text x="372.00" y="386.50" style="font-size:7.0px;font-weight:bold" fill="#ff2424" stroke="#ff2424" stroke-width="0.28" text-anchor="middle">Y</text><text x="380.30" y="386.50" style="font-size:7.0px;font-weight:bold" fill="#ff2424" stroke="#ff2424" stroke-width="0.28" text-anchor="middle">N</text>
<text x="410.20" y="386.50" style="font-size:7.0px;font-weight:bold" fill="#ff2424" stroke="#ff2424" stroke-width="0.28" text-anchor="middle">Y</text><text x="418.30" y="386.50" style="font-size:7.0px;font-weight:bold" fill="#ff2424" stroke="#ff2424" stroke-width="0.28" text-anchor="middle">N</text><text x="426.50" y="386.50" style="font-size:7.0px;font-weight:bold" fill="#ff2424" stroke="#ff2424" stroke-width="0.28" text-anchor="middle">Y</text><text x="434.60" y="386.50" style="font-size:7.0px;font-weight:bold" fill="#ff2424" stroke="#ff2424" stroke-width="0.28" text-anchor="middle">N</text>
<text x="464.60" y="386.50" style="font-size:7.0px;font-weight:bold" fill="#ff2424" stroke="#ff2424" stroke-width="0.28" text-anchor="middle">Y</text><text x="472.70" y="386.50" style="font-size:7.0px;font-weight:bold" fill="#ff2424" stroke="#ff2424" stroke-width="0.28" text-anchor="middle">N</text><text x="480.90" y="386.50" style="font-size:7.0px;font-weight:bold" fill="#ff2424" stroke="#ff2424" stroke-width="0.28" text-anchor="middle">Y</text><text x="489.10" y="386.50" style="font-size:7.0px;font-weight:bold" fill="#ff2424" stroke="#ff2424" stroke-width="0.28" text-anchor="middle">N</text>
<text x="518.90" y="386.50" style="font-size:7.0px;font-weight:bold" fill="#ff2424" stroke="#ff2424" stroke-width="0.28" text-anchor="middle">N</text><text x="527.00" y="386.50" style="font-size:7.0px;font-weight:bold" fill="#ff2424" stroke="#ff2424" stroke-width="0.28" text-anchor="middle">N</text><text x="535.40" y="386.50" style="font-size:7.0px;font-weight:bold" fill="#ff2424" stroke="#ff2424" stroke-width="0.28" text-anchor="middle">N</text><text x="543.40" y="386.50" style="font-size:7.0px;font-weight:bold" fill="#ff2424" stroke="#ff2424" stroke-width="0.28" text-anchor="middle">N</text>
<rect x="583.2" y="282.30" width="20.7" height="7.1" fill="#c8413b"/>
<text transform="translate(612.50,289.30) scale(1,1.06)" style="font-size:10.1px" fill="#0d0d0d" stroke="#0d0d0d" stroke-width="0.12">All Model</text>
<rect x="583.2" y="296.85" width="20.7" height="7.1" fill="#ecd48b"/>
<text transform="translate(612.50,303.85) scale(1,1.06)" style="font-size:10.1px" fill="#0d0d0d" stroke="#0d0d0d" stroke-width="0.12">AGCMs</text>
<rect x="583.2" y="311.40" width="20.7" height="7.1" fill="#a9c8e2"/>
<text transform="translate(612.50,318.40) scale(1,1.06)" style="font-size:10.1px" fill="#0d0d0d" stroke="#0d0d0d" stroke-width="0.12">CGCMs</text>
<rect x="583.2" y="325.95" width="20.7" height="7.1" fill="#3f5fa8"/>
<text transform="translate(612.50,332.95) scale(1,1.06)" style="font-size:10.1px" fill="#0d0d0d" stroke="#0d0d0d" stroke-width="0.12">AGCMs-CGCMs</text>
</svg></div>
</body></html>
